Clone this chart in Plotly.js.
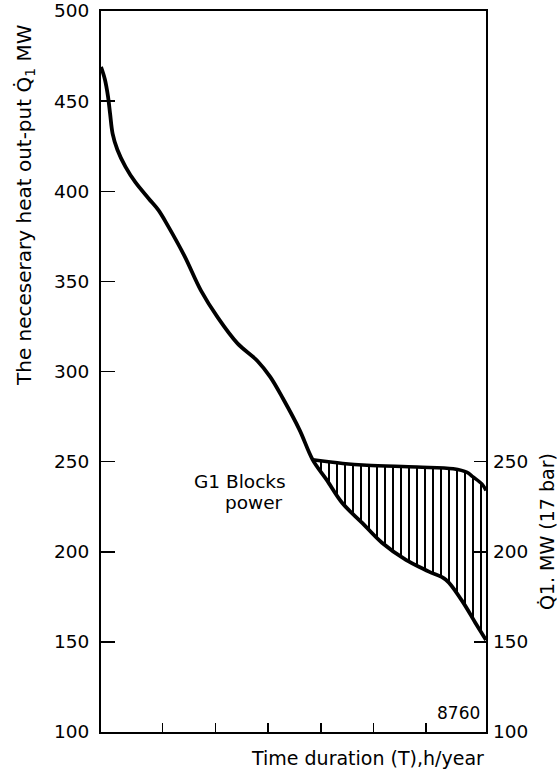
<!DOCTYPE html>
<html>
<head>
<meta charset="utf-8">
<script src="https://cdn.plot.ly/plotly-3.0.1.min.js"></script>
<style>html,body{margin:0;padding:0;background:#fff;}#chart{width:557px;height:773px;}</style>
</head>
<body>
<div id="chart"></div>
<script>
// Heat demand duration curve (left axis, MW)
const demandX = [0, 89, 160, 207, 264, 373, 558, 781, 1083, 1307, 1530, 1901, 2272, 2655, 3105, 3555, 3850, 4140, 4520, 4817, 5132, 5490, 5943, 6393, 6938, 7461, 7847, 8208, 8520, 8760];
const demandY = [469, 462, 452.5, 443, 432, 423, 413.5, 405, 396, 389.5, 380.5, 364, 345, 330, 315.6, 306, 297, 285, 267.5, 251, 240, 227, 216, 205, 195.5, 189, 184.5, 173, 160.5, 151];
// G1 blocks power (17 bar) upper boundary of shaded area
const g1X = [4817, 5500, 6050, 7190, 8014, 8330, 8465, 8670, 8760];
const g1Y = [251, 249, 248, 247, 246, 244, 241.5, 237.5, 234];
// Axis ticks
const xTickPositions = [1400, 2600, 3800, 5000, 6200, 7400];
const yTicks = [100, 150, 200, 250, 300, 350, 400, 450, 500];
const y2Ticks = [100, 150, 200, 250];
const xEndLabel = '8760';

const baseX = [], baseY = [];
for (let i = 0; i < demandX.length; i++) {
  if (demandX[i] >= g1X[0]) { baseX.push(demandX[i]); baseY.push(demandY[i]); }
}

const FONT = 'DejaVu Sans, sans-serif';
const SM = 1.0;

const traces = [
  {x: baseX, y: baseY, type: 'scatter', mode: 'lines', line: {width: 0, color: 'black', shape: 'spline', smoothing: SM}, hoverinfo: 'skip', showlegend: false},
  {x: g1X, y: g1Y, type: 'scatter', mode: 'lines', fill: 'tonexty', fillcolor: 'white',
   fillpattern: {shape: '|', fgcolor: 'black', bgcolor: 'white', size: 8, solidity: 0.25},
   line: {width: 3.5, color: 'black', shape: 'spline', smoothing: SM}, showlegend: false},
  {x: demandX, y: demandY, type: 'scatter', mode: 'lines', line: {width: 3.8, color: 'black', shape: 'spline', smoothing: SM}, showlegend: false},
  {x: [0], y: [100], yaxis: 'y2', type: 'scatter', mode: 'markers', marker: {opacity: 0}, hoverinfo: 'skip', showlegend: false}
];

const L = 101, R = 486, T = 11, B = 732;
function px(x) { return (x - L) / (R - L); }
function py(y) { return (B - y) / (B - T); }

const layout = {
  width: 557, height: 773,
  margin: {l: L, r: 557 - R, t: T, b: 773 - B, pad: 0},
  paper_bgcolor: 'white', plot_bgcolor: 'white',
  font: {family: FONT, color: 'black', size: 18},
  showlegend: false,
  xaxis: {range: [0, 8760], showline: true, linewidth: 2, linecolor: 'black', mirror: true,
          ticks: 'inside', tickvals: xTickPositions, ticklen: 9, tickwidth: 1.5, tickcolor: 'black',
          showticklabels: false, showgrid: false, zeroline: false, fixedrange: true},
  yaxis: {range: [100, 500], showline: true, linewidth: 2, linecolor: 'black', mirror: true,
          ticks: 'inside', tickvals: yTicks, ticktext: yTicks.map(String), ticklen: 14, tickwidth: 1.5, tickcolor: 'black',
          tickfont: {family: FONT, size: 18.5, color: 'black'}, ticklabelstandoff: 6,
          showgrid: false, zeroline: false, fixedrange: true},
  yaxis2: {range: [100, 500], overlaying: 'y', side: 'right', showline: false,
           ticks: 'inside', tickvals: y2Ticks, ticktext: y2Ticks.map(String), ticklen: 12, tickwidth: 1.5, tickcolor: 'black',
           tickfont: {family: FONT, size: 18.5, color: 'black'}, ticklabelstandoff: 6,
           showgrid: false, zeroline: false, fixedrange: true},
  annotations: [
    {text: 'The neceserary heat out-put Q\u0307<sub>1</sub> MW', xref: 'paper', yref: 'paper', x: px(25), y: py(205),
     textangle: -90, showarrow: false, xanchor: 'center', yanchor: 'middle', font: {family: FONT, size: 20}},
    {text: 'Time duration (T),h/year', xref: 'paper', yref: 'paper', x: px(367), y: py(758),
     showarrow: false, xanchor: 'center', yanchor: 'middle', font: {family: FONT, size: 19}},
    {text: 'Q\u03071. MW (17 bar)', xref: 'paper', yref: 'paper', x: px(547), y: py(532),
     textangle: -90, showarrow: false, xanchor: 'center', yanchor: 'middle', font: {family: FONT, size: 19}},
    {text: 'G1 Blocks', xref: 'paper', yref: 'paper', x: px(192), y: py(482),
     showarrow: false, xanchor: 'left', yanchor: 'middle', font: {family: FONT, size: 18.5}},
    {text: 'power', xref: 'paper', yref: 'paper', x: px(223), y: py(503),
     showarrow: false, xanchor: 'left', yanchor: 'middle', font: {family: FONT, size: 18.5}},
    {text: xEndLabel, xref: 'paper', yref: 'paper', x: px(458), y: py(713),
     showarrow: false, xanchor: 'center', yanchor: 'middle', font: {family: FONT, size: 17}}
  ]
};

Plotly.newPlot('chart', traces, layout, {staticPlot: true, displayModeBar: false});
</script>
</body>
</html>
